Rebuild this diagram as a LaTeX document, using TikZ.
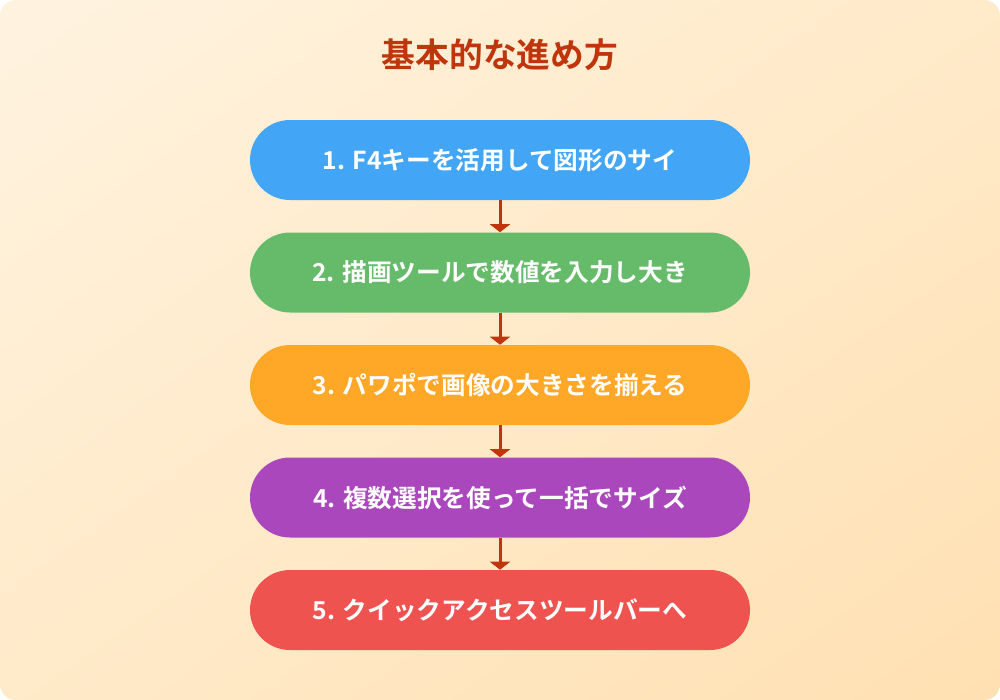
\documentclass[tikz,border=0pt]{standalone}
\usepackage{fontspec}
\newfontfamily\cjk{Noto Sans CJK JP Bold}
\usetikzlibrary{arrows.meta,shadings}
\definecolor{bgA}{HTML}{FFF3E0}
\definecolor{bgB}{HTML}{FFE0B2}
\definecolor{bgM}{HTML}{FFEAC9}
\definecolor{titlec}{HTML}{BF360C}
\definecolor{c1}{HTML}{42A5F5}
\definecolor{c2}{HTML}{66BB6A}
\definecolor{c3}{HTML}{FFA726}
\definecolor{c4}{HTML}{AB47BC}
\definecolor{c5}{HTML}{EF5350}
\begin{document}
\begin{tikzpicture}[x=0.75pt,y=-0.75pt,
  stepbox/.style={rounded corners=30pt, minimum width=375pt, minimum height=60pt,
    inner sep=0pt, text=white, font=\cjk\fontsize{18.5}{21}\selectfont},
  conn/.style={draw=titlec, line width=2.25pt,
    -{Triangle[width=15pt,length=6pt]}}]
\useasboundingbox (0,0) rectangle (1000,700);
\fill[white] (0,0) rectangle (1000,700);
\shade[upper left=bgA, lower right=bgB, upper right=bgM, lower left=bgM, rounded corners=12pt]
  (0,0) rectangle (1000,700);
\node (title) at (500,55) {\cjk\fontsize{25.3}{29}\selectfont\color{titlec}基本的な進め方};
\node[stepbox, fill=c1] (s1) at (500,160) {1. F4キーを活用して図形のサイ};
\node[stepbox, fill=c2] (s2) at (500,272.5) {2. 描画ツールで数値を入力し大き};
\node[stepbox, fill=c3] (s3) at (500,385) {3. パワポで画像の大きさを揃える};
\node[stepbox, fill=c4] (s4) at (500,497.5) {4. 複数選択を使って一括でサイズ};
\node[stepbox, fill=c5] (s5) at (500,610) {5. クイックアクセスツールバーへ};
\draw[conn] (s1) -- (s2);
\draw[conn] (s2) -- (s3);
\draw[conn] (s3) -- (s4);
\draw[conn] (s4) -- (s5);
\end{tikzpicture}
\end{document}
